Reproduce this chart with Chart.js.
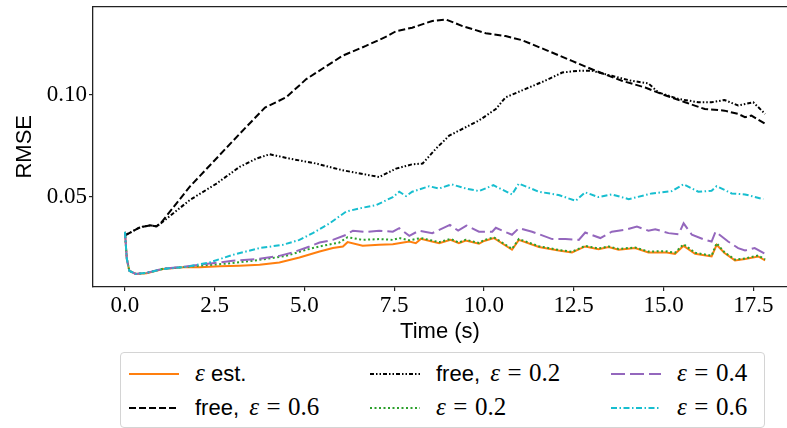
<!DOCTYPE html>
<html>
<head>
<meta charset="utf-8">
<script src="https://cdn.jsdelivr.net/npm/chart.js@4"></script>
<style>
  html, body { margin: 0; padding: 0; background: #fff; }
  #wrap { position: relative; width: 787px; height: 428px; overflow: hidden; }
  #c { position: absolute; left: 0; top: 0; }
  #legend {
    position: absolute; left: 120px; top: 352px; width: 645px; height: 76px;
    border: 1px solid #d4d4d4; border-radius: 4px; box-sizing: border-box; background: #fff;
  }
  .item {
    position: absolute; height: 30px; line-height: 30px;
    font-family: "Liberation Sans", sans-serif; font-size: 22px; color: #000; white-space: pre;
  }
  .item svg { vertical-align: middle; margin-right: 16px; position: relative; top: -1px; }
  .m { font-family: "Liberation Serif", serif; font-size: 25px; }
  .m.gap { margin-left: 4px; }
  .eq { margin: 0 0.3em; font-style: normal; }
</style>
</head>
<body>
<div id="wrap">
  <canvas id="c" width="787" height="428"></canvas>
  <div id="legend"></div>
</div>
<script>
'use strict';

// --- data ---
const seriesLabels = ['ε est.', 'free, ε = 0.6', 'free, ε = 0.2', 'ε = 0.2', 'ε = 0.4', 'ε = 0.6'];
const xTickValues = [0, 2.5, 5, 7.5, 10, 12.5, 15, 17.5];
const yTickValues = [0.05, 0.10];

const estT = [0, 0.05, 0.12, 0.3, 0.6, 1.06, 1.62, 2.08, 2.64, 3.19, 3.75, 4.3, 4.86, 5.42, 5.79, 6.07, 6.2, 6.62, 7.08, 7.46, 7.92, 8.1, 8.24, 8.75, 9.07, 9.3, 9.49, 9.86, 10.0, 10.28, 10.78, 10.97, 11.53, 12.08, 12.45, 12.82, 13.19, 13.47, 13.75, 14.21, 14.58, 15.05, 15.32, 15.56, 15.88, 16.34, 16.48, 16.7, 16.99, 17.27, 17.64, 17.83];
const estV = [0.033, 0.020, 0.014, 0.0125, 0.0128, 0.0149, 0.0157, 0.0157, 0.0162, 0.0165, 0.017, 0.0181, 0.0205, 0.0234, 0.0251, 0.0259, 0.028, 0.0262, 0.0267, 0.0270, 0.0283, 0.0275, 0.0296, 0.0275, 0.0291, 0.0275, 0.0288, 0.0272, 0.0286, 0.030, 0.0243, 0.0291, 0.0256, 0.0239, 0.023, 0.0259, 0.0246, 0.0256, 0.0243, 0.0251, 0.023, 0.023, 0.0223, 0.0262, 0.0223, 0.021, 0.0267, 0.0227, 0.0191, 0.0198, 0.021, 0.0191];

const free6T = [0, 0.42, 0.7, 0.88, 1.02, 1.8, 2.5, 3.2, 3.9, 4.49, 5.05, 6.06, 6.71, 7.31, 7.55, 8.0, 8.56, 8.94, 9.4, 10.05, 10.6, 11.06, 11.7, 12.45, 13.1, 13.84, 14.49, 14.95, 15.6, 16.15, 16.7, 17.08, 17.27, 17.45, 17.83];
const free6V = [0.0313, 0.0353, 0.0362, 0.0357, 0.0378, 0.055, 0.068, 0.081, 0.0937, 0.0987, 0.1076, 0.119, 0.1238, 0.1286, 0.131, 0.1327, 0.136, 0.1367, 0.1335, 0.130, 0.1286, 0.1266, 0.122, 0.1165, 0.1117, 0.1068, 0.1035, 0.1003, 0.0963, 0.093, 0.0922, 0.0906, 0.089, 0.0898, 0.0858];

const free2T = [0, 0.42, 0.7, 0.88, 1.02, 1.8, 2.55, 3.19, 3.66, 4.03, 4.58, 5.32, 6.06, 6.8, 7.08, 7.55, 8.0, 8.29, 8.66, 9.03, 9.49, 9.86, 10.33, 10.6, 11.16, 11.7, 12.18, 12.64, 13.0, 13.56, 14.1, 14.58, 14.86, 15.42, 15.97, 16.34, 16.7, 17.08, 17.5, 17.83];
const free2V = [0.0313, 0.0353, 0.0362, 0.0357, 0.0375, 0.0485, 0.0566, 0.0647, 0.0688, 0.0709, 0.0688, 0.0664, 0.0631, 0.0607, 0.0598, 0.0639, 0.066, 0.0664, 0.0736, 0.080, 0.0841, 0.0874, 0.093, 0.0987, 0.1028, 0.1068, 0.1108, 0.1117, 0.1117, 0.1092, 0.1068, 0.1055, 0.1011, 0.0979, 0.0963, 0.0963, 0.0974, 0.0947, 0.0963, 0.0906];

const eps2T = [0, 0.05, 0.12, 0.3, 0.6, 1.06, 1.62, 2.08, 2.6, 3.0, 3.5, 3.93, 4.49, 5.05, 5.42, 5.97, 6.2, 6.62, 7.08, 7.46, 7.64, 7.92, 8.24, 8.75, 9.07, 9.3, 9.49, 9.86, 10.0, 10.28, 10.78, 10.97, 11.53, 12.08, 12.45, 12.82, 13.19, 13.47, 13.75, 14.21, 14.58, 15.05, 15.32, 15.56, 15.88, 16.34, 16.48, 16.7, 16.99, 17.27, 17.64, 17.83];
const eps2V = [0.033, 0.020, 0.014, 0.0125, 0.013, 0.015, 0.0158, 0.0165, 0.0172, 0.0178, 0.0188, 0.0198, 0.0213, 0.0243, 0.0259, 0.0278, 0.0304, 0.0291, 0.0295, 0.0291, 0.0300, 0.0289, 0.0300, 0.0280, 0.0296, 0.0278, 0.0292, 0.0276, 0.0290, 0.0303, 0.0247, 0.0295, 0.0260, 0.0242, 0.0233, 0.0262, 0.0249, 0.0259, 0.0247, 0.0254, 0.0234, 0.0236, 0.0228, 0.0270, 0.0228, 0.0214, 0.0275, 0.0230, 0.0195, 0.0200, 0.0215, 0.0196];

const eps4T = [0, 0.05, 0.12, 0.3, 0.6, 1.06, 1.62, 2.08, 2.5, 3.0, 3.75, 4.3, 4.68, 5.14, 5.42, 5.79, 6.16, 6.35, 6.71, 7.08, 7.46, 7.64, 7.92, 8.19, 8.56, 9.05, 9.28, 9.51, 9.86, 10.23, 10.33, 10.78, 10.97, 11.34, 11.9, 12.27, 12.64, 12.82, 13.24, 13.56, 13.93, 14.26, 14.58, 14.77, 15.14, 15.42, 15.56, 15.79, 16.16, 16.34, 16.45, 16.8, 17.08, 17.27, 17.54, 17.83];
const eps4V = [0.033, 0.020, 0.014, 0.0125, 0.013, 0.015, 0.016, 0.017, 0.0178, 0.0189, 0.0199, 0.0213, 0.023, 0.0259, 0.0278, 0.0291, 0.0316, 0.0336, 0.0329, 0.0336, 0.0331, 0.0348, 0.0311, 0.0336, 0.0324, 0.0364, 0.0336, 0.0361, 0.0331, 0.0331, 0.035, 0.0316, 0.0348, 0.0331, 0.0295, 0.0295, 0.0291, 0.0327, 0.030, 0.0331, 0.034, 0.0356, 0.0336, 0.0343, 0.0324, 0.0319, 0.0372, 0.0316, 0.0291, 0.0283, 0.0331, 0.0283, 0.0251, 0.0239, 0.0251, 0.0223];

const eps6T = [0, 0.05, 0.12, 0.3, 0.6, 1.06, 1.7, 2.36, 3.0, 3.75, 4.4, 4.86, 5.23, 5.7, 6.16, 6.53, 7.0, 7.46, 7.64, 7.83, 8.0, 8.47, 8.75, 9.1, 9.49, 9.86, 10.26, 10.78, 10.97, 11.53, 12.08, 12.55, 12.82, 13.19, 13.56, 14.03, 14.68, 15.23, 15.56, 15.97, 16.34, 16.48, 16.9, 17.27, 17.78];
const eps6V = [0.033, 0.020, 0.014, 0.0125, 0.013, 0.0149, 0.0159, 0.0181, 0.0218, 0.0251, 0.0267, 0.0291, 0.0324, 0.0372, 0.0429, 0.0445, 0.0461, 0.050, 0.0526, 0.0505, 0.0526, 0.0553, 0.0542, 0.0562, 0.0542, 0.0529, 0.0558, 0.0513, 0.0566, 0.0526, 0.051, 0.0482, 0.0523, 0.050, 0.0513, 0.049, 0.0518, 0.0529, 0.0563, 0.0526, 0.0531, 0.0553, 0.0518, 0.0513, 0.049];

// --- helpers ---
const pts = (t, v) => t.map((x, i) => ({ x, y: v[i] }));

const styles = [
  { color: '#ff7f0e', dash: [] },
  { color: '#000000', dash: [7, 3] },
  { color: '#000000', dash: [4, 2, 1.5, 2, 1.5, 2] },
  { color: '#2ca02c', dash: [2, 2.5] },
  { color: '#9467bd', dash: [14, 5] },
  { color: '#17becf', dash: [6, 2.5, 1.5, 2.5] },
];
const series = [[estT, estV], [free6T, free6V], [free2T, free2V], [eps2T, eps2V], [eps4T, eps4V], [eps6T, eps6V]];

const datasets = series.map(([t, v], i) => ({
  label: seriesLabels[i],
  data: pts(t, v),
  borderColor: styles[i].color,
  borderDash: styles[i].dash,
  borderWidth: 2,
  pointRadius: 0,
  tension: 0,
  fill: false,
  order: series.length - i, // later series drawn on top, like matplotlib
}));

// frame line on top of the axes box
const framePlugin = {
  id: 'frame',
  afterDraw(chart) {
    const { ctx, chartArea: a } = chart;
    ctx.save();
    ctx.strokeStyle = '#222';
    ctx.lineWidth = 1.3;
    ctx.beginPath();
    ctx.moveTo(a.left, a.top);
    ctx.lineTo(a.right, a.top);
    ctx.stroke();
    ctx.restore();
  },
};

const xTickFont = { family: '"Liberation Serif", serif', size: 23 };
const yTickFont = { family: '"Liberation Serif", serif', size: 23, lineHeight: 0.4 };
const titleFont = { family: '"Liberation Sans", sans-serif', size: 22 };

new Chart(document.getElementById('c'), {
  type: 'line',
  data: { datasets },
  options: {
    responsive: false,
    animation: false,
    layout: { padding: { top: 5, right: 0, bottom: 83, left: 0 } },
    plugins: { legend: { display: false }, tooltip: { enabled: false } },
    scales: {
      x: {
        type: 'linear',
        min: -0.891,
        max: 18.44,
        afterFit: s => { s.height = 58; },
        afterBuildTicks: s => { s.ticks = xTickValues.map(value => ({ value })); },
        ticks: { font: xTickFont, color: '#000', padding: 1, maxRotation: 0, callback: v => v.toFixed(1) },
        grid: { drawOnChartArea: false, drawTicks: true, tickLength: 4, color: '#222', lineWidth: 1.2 },
        border: { display: true, color: '#222', width: 1.3 },
        title: { display: true, text: 'Time (s)', font: titleFont, color: '#000', padding: { top: 0, bottom: 0 } },
      },
      y: {
        min: 0.0061,
        max: 0.1430,
        afterFit: s => { s.width = 93; },
        afterBuildTicks: s => { s.ticks = yTickValues.map(value => ({ value })); },
        ticks: { font: yTickFont, color: '#000', padding: 2, callback: v => v.toFixed(2) },
        grid: { drawOnChartArea: false, drawTicks: true, tickLength: 4, color: '#222', lineWidth: 1.2 },
        border: { display: true, color: '#222', width: 1.3 },
        title: { display: true, text: 'RMSE', font: titleFont, color: '#000', padding: { top: 12, bottom: 0 } },
      },
    },
  },
  plugins: [framePlugin],
});

// --- legend (3 columns, filled column by column) ---
const legendEl = document.getElementById('legend');
const fmt = s => s.replace(/ε(?: = ([\d.]+))?/, (m, num, at) =>
  '<span class="m' + (at > 0 ? ' gap' : '') + '"><i>ε</i>' +
  (num ? '<span class="eq">=</span>' + num : '') + '</span>');
datasets.forEach((ds, i) => {
  const col = Math.floor(i / 2), row = i % 2;
  const item = document.createElement('div');
  item.className = 'item';
  item.style.left = (8 + col * 241) + 'px';
  item.style.top = (5 + row * 34) + 'px';
  item.innerHTML =
    '<svg width="50" height="10"><line x1="0" y1="5" x2="50" y2="5" stroke="' + ds.borderColor +
    '" stroke-width="2" stroke-dasharray="' + (ds.borderDash.join(' ') || 'none') + '"/></svg>' + fmt(ds.label);
  legendEl.appendChild(item);
});
</script>
</body>
</html>
